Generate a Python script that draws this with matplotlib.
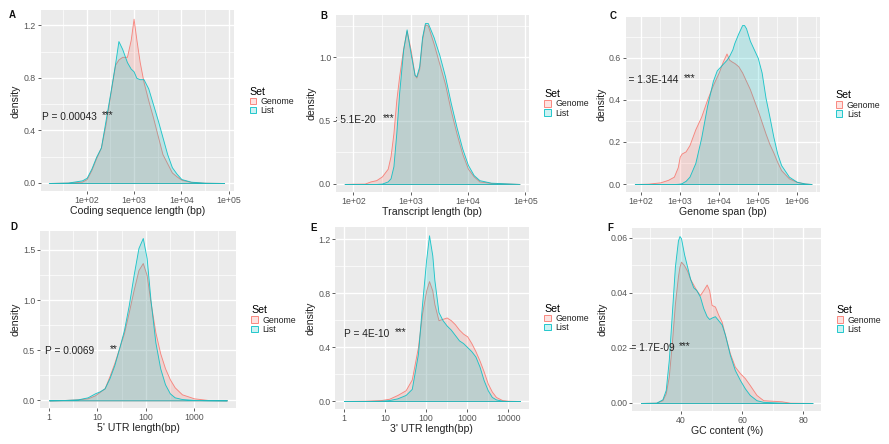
import numpy as np
import matplotlib
matplotlib.use("Agg")
import matplotlib.pyplot as plt
from matplotlib.patches import Patch
from matplotlib.colors import to_rgba
from matplotlib.ticker import FixedLocator, FixedFormatter

plt.rcParams['font.family'] = ['Liberation Sans', 'DejaVu Sans']

set_labels = ['Genome', 'List']
set_colors = ['#F8766D', '#00BFC4']

# ---------------- A: coding sequence length (log10 bp) ----------------
cds_log10 = [1.2, 1.6, 1.9, 2.0, 2.1, 2.2, 2.3, 2.4, 2.5, 2.6, 2.67, 2.75, 2.85, 2.93, 2.99,
             3.05, 3.12, 3.2, 3.3, 3.4, 3.5, 3.6, 3.7, 3.8, 3.9, 4.0, 4.2, 4.5, 4.9]
cds_genome = [0.0, 0.003, 0.01, 0.03, 0.10, 0.19, 0.27, 0.45, 0.68, 0.90, 0.94, 0.96, 0.96, 1.09, 1.25,
              1.09, 0.92, 0.77, 0.63, 0.50, 0.36, 0.22, 0.15, 0.08, 0.05, 0.025, 0.008, 0.002, 0.0]
cds_list = [0.0, 0.003, 0.02, 0.04, 0.11, 0.20, 0.27, 0.48, 0.69, 0.91, 1.08, 1.02, 0.92, 0.87, 0.85,
            0.80, 0.79, 0.79, 0.72, 0.60, 0.48, 0.35, 0.22, 0.12, 0.07, 0.03, 0.01, 0.002, 0.0]

# ---------------- B: transcript length ----------------
tx_log10 = [1.85, 2.0, 2.2, 2.3, 2.4, 2.5, 2.6, 2.65, 2.7, 2.75, 2.8, 2.87, 2.93, 3.0, 3.07, 3.1,
            3.15, 3.2, 3.25, 3.3, 3.4, 3.5, 3.6, 3.7, 3.8, 3.9, 4.0, 4.1, 4.2, 4.4, 4.9]
tx_genome = [0.0, 0.002, 0.003, 0.02, 0.03, 0.06, 0.12, 0.22, 0.40, 0.66, 0.85, 1.07, 1.21, 1.06, 0.86, 0.84,
             0.91, 1.14, 1.26, 1.25, 1.11, 0.95, 0.79, 0.58, 0.40, 0.24, 0.12, 0.06, 0.02, 0.008, 0.0]
tx_list = [0.0, 0.0, 0.0, 0.0, 0.0, 0.003, 0.02, 0.045, 0.14, 0.40, 0.72, 1.06, 1.22, 1.03, 0.86, 0.85,
           0.93, 1.16, 1.27, 1.27, 1.16, 1.02, 0.85, 0.64, 0.45, 0.28, 0.15, 0.07, 0.03, 0.01, 0.0]

# ---------------- C: genome span ----------------
span_log10 = [1.85, 2.2, 2.5, 2.7, 2.85, 2.95, 3.0, 3.05, 3.1, 3.15, 3.25, 3.4, 3.55, 3.7, 3.85, 3.95,
              4.0, 4.1, 4.2, 4.27, 4.35, 4.4, 4.5, 4.6, 4.65, 4.7, 4.8, 4.9, 5.0, 5.1, 5.2, 5.3,
              5.4, 5.5, 5.6, 5.8, 6.0, 6.2, 6.38]
span_genome = [0.0, 0.002, 0.008, 0.02, 0.035, 0.08, 0.13, 0.145, 0.15, 0.155, 0.185, 0.26, 0.32, 0.40, 0.47, 0.51,
               0.53, 0.58, 0.62, 0.59, 0.58, 0.575, 0.56, 0.53, 0.51, 0.49, 0.45, 0.40, 0.35, 0.295, 0.24, 0.19,
               0.15, 0.105, 0.066, 0.027, 0.01, 0.003, 0.0]
span_list = [0.0, 0.0, 0.0, 0.0, 0.0, 0.001, 0.002, 0.004, 0.01, 0.015, 0.035, 0.10, 0.22, 0.37, 0.49, 0.54,
             0.55, 0.57, 0.59, 0.61, 0.64, 0.67, 0.715, 0.755, 0.755, 0.74, 0.68, 0.64, 0.60, 0.53, 0.41, 0.32,
             0.225, 0.145, 0.09, 0.035, 0.011, 0.003, 0.0]

# ---------------- D: 5' UTR length ----------------
utr5_log10 = [0.0, 0.3, 0.6, 0.8, 0.95, 1.05, 1.15, 1.25, 1.35, 1.45, 1.55, 1.65, 1.75, 1.85, 1.94,
              2.02, 2.1, 2.2, 2.3, 2.4, 2.5, 2.6, 2.75, 3.0, 3.3, 3.68]
utr5_genome = [0.0, 0.003, 0.01, 0.02, 0.05, 0.085, 0.12, 0.24, 0.37, 0.52, 0.67, 0.88, 1.10, 1.30, 1.37,
               1.25, 0.98, 0.68, 0.47, 0.32, 0.21, 0.13, 0.06, 0.02, 0.003, 0.0]
utr5_list = [0.0, 0.003, 0.01, 0.03, 0.07, 0.09, 0.12, 0.22, 0.35, 0.52, 0.70, 0.95, 1.25, 1.52, 1.62,
             1.42, 1.00, 0.58, 0.32, 0.16, 0.07, 0.03, 0.013, 0.004, 0.001, 0.0]

# ---------------- E: 3' UTR length ----------------
utr3_log10 = [0.0, 0.5, 0.9, 1.1, 1.3, 1.5, 1.65, 1.8, 1.9, 2.0, 2.07, 2.15, 2.2, 2.3, 2.4, 2.5,
              2.6, 2.7, 2.8, 2.9, 3.0, 3.1, 3.2, 3.3, 3.4, 3.5, 3.6, 3.7, 3.85, 4.0, 4.28]
utr3_genome = [0.0, 0.002, 0.007, 0.017, 0.045, 0.08, 0.16, 0.40, 0.65, 0.82, 0.89, 0.82, 0.72, 0.60, 0.61, 0.62,
               0.60, 0.57, 0.53, 0.50, 0.48, 0.43, 0.37, 0.30, 0.22, 0.13, 0.07, 0.03, 0.007, 0.002, 0.0]
utr3_list = [0.0, 0.0, 0.002, 0.007, 0.02, 0.045, 0.09, 0.35, 0.72, 1.05, 1.23, 1.08, 0.90, 0.66, 0.60, 0.56,
             0.53, 0.49, 0.45, 0.43, 0.40, 0.37, 0.33, 0.255, 0.155, 0.08, 0.03, 0.012, 0.002, 0.0, 0.0]

# ---------------- F: GC content (%) ----------------
gc_pct = [26.9, 31.9, 33.9, 35.0, 36.0, 37.0, 38.0, 39.0, 39.5, 40.0, 41.0, 42.0, 43.0, 44.0, 45.0, 46.2,
          47.3, 48.4, 49.2, 50.0, 51.1, 52.2, 53.3, 54.4, 56.0, 57.6, 59.3, 60.9, 62.5, 64.7, 66.9,
          72.9, 75.6, 83.0]
gc_genome = [0.0, 0.0001, 0.001, 0.0035, 0.0096, 0.0217, 0.036, 0.046, 0.0495, 0.0513, 0.050, 0.048, 0.045,
             0.043, 0.041, 0.0392, 0.041, 0.043, 0.041, 0.0356, 0.035, 0.032, 0.0295, 0.0247, 0.018, 0.0132,
             0.0108, 0.009, 0.0065, 0.0029, 0.001, 0.0006, 0.0001, 0.0]
gc_list = [0.0, 0.0001, 0.0013, 0.0047, 0.0156, 0.0325, 0.0495, 0.059, 0.0606, 0.0598, 0.054, 0.0495, 0.045,
           0.042, 0.041, 0.0386, 0.0344, 0.0315, 0.0305, 0.031, 0.0315, 0.030, 0.0285, 0.0247, 0.0174, 0.012,
           0.0083, 0.0053, 0.0029, 0.001, 0.0004, 0.0001, 0.0, 0.0]

p_texts = ['P = 0.00043', 'P = 5.1E-20', 'P = 1.3E-144', 'P = 0.0069', 'P = 4E-10', 'P = 1.7E-09']
stars = ['***', '***', '***', '**', '***', '***']
x_titles = ['Coding sequence length (bp)', 'Transcript length (bp)', 'Genome span (bp)',
            "5' UTR length(bp)", "3' UTR length(bp)", 'GC content (%)']
panel_letters = ['A', 'B', 'C', 'D', 'E', 'F']

W, H = 889, 444
fig = plt.figure(figsize=(W / 100, H / 100), dpi=100)
fig.patch.set_facecolor('white')

BG = '#EBEBEB'
TICK_COL = '#555555'
TEXT_COL = '#222222'


def make_ax(x0, y0, x1, y1):
    return fig.add_axes([x0 / W, 1 - y1 / H, (x1 - x0) / W, (y1 - y0) / H])


def style(ax, xmaj, xlabels, xmin, ymaj, ylabels, ymin):
    ax.set_facecolor(BG)
    for s in ax.spines.values():
        s.set_visible(False)
    ax.xaxis.set_major_locator(FixedLocator(xmaj))
    ax.xaxis.set_major_formatter(FixedFormatter(xlabels))
    ax.xaxis.set_minor_locator(FixedLocator(xmin))
    ax.yaxis.set_major_locator(FixedLocator(ymaj))
    ax.yaxis.set_major_formatter(FixedFormatter(ylabels))
    ax.yaxis.set_minor_locator(FixedLocator(ymin))
    ax.grid(which='major', color='white', linewidth=0.95)
    ax.grid(which='minor', color='white', linewidth=0.5)
    ax.set_axisbelow(True)
    ax.tick_params(which='major', length=2.0, width=0.6, color='#444444', pad=1.5,
                   labelsize=6.3, labelcolor=TICK_COL)
    ax.tick_params(which='minor', length=0)


def draw(ax, x, ys):
    for y, c in zip(ys, set_colors):
        ax.fill_between(x, y, 0, facecolor=to_rgba(c, 0.2), edgecolor=to_rgba(c, 0.85),
                        linewidth=0.65)


def annotate(ax, letter, xlab, ptxt, star, xr, xs, yy, letter_xy):
    ax.set_xlabel(xlab, fontsize=7.6, labelpad=0.8, color=TEXT_COL)
    ax.set_ylabel('density', fontsize=7.6, labelpad=2.0, color=TEXT_COL)
    ax.text(xr, yy, ptxt, transform=ax.transAxes, ha='right', va='center', fontsize=7.3,
            color=TEXT_COL, clip_on=True)
    ax.text(xs, yy + 0.01, star, transform=ax.transAxes, ha='left', va='center', fontsize=7.3,
            color=TEXT_COL, clip_on=True)
    fig.text(letter_xy[0] / W, 1 - letter_xy[1] / H, letter, fontsize=7, fontweight='bold',
             ha='left', va='center', color='#111111')
    axw = ax.get_position().width * W
    handles = [Patch(facecolor=to_rgba(c, 0.2), edgecolor=to_rgba(c, 0.85), linewidth=0.7)
               for c in set_colors]
    ax.legend(handles, set_labels, title='Set', loc='center left',
              bbox_to_anchor=(1 + 15.5 / axw, 0.5), frameon=False, fontsize=6.3,
              title_fontsize=7.6, handlelength=0.75, handleheight=0.75, handletextpad=0.5,
              labelspacing=0.02, borderpad=0, borderaxespad=0, alignment='left',
              labelcolor=TEXT_COL)


def lg(v):
    return np.power(10.0, np.asarray(v, dtype=float))


# A
ax = make_ax(40.5, 10.5, 234.2, 191.2)
ax.set_xscale('log')
draw(ax, lg(cds_log10), [cds_genome, cds_list])
ax.set_xlim(lg(1.024), lg(5.116))
ax.set_ylim(-0.0625, 1.3125)
style(ax, lg([2, 3, 4, 5]), ['1e+02', '1e+03', '1e+04', '1e+05'], lg([1.5, 2.5, 3.5, 4.5]),
      [0, 0.4, 0.8, 1.2], ['0.0', '0.4', '0.8', '1.2'], [0.2, 0.6, 1.0])
annotate(ax, 'A', x_titles[0], p_texts[0], stars[0], 0.292, 0.318, 0.413, (9, 15))

# B
ax = make_ax(335.9, 15.0, 528.9, 192.0)
ax.set_xscale('log')
draw(ax, lg(tx_log10), [tx_genome, tx_list])
ax.set_xlim(lg(1.697), lg(5.063))
ax.set_ylim(-0.0635, 1.3335)
style(ax, lg([2, 3, 4, 5]), ['1e+02', '1e+03', '1e+04', '1e+05'], lg([2.5, 3.5, 4.5]),
      [0, 0.5, 1.0], ['0.0', '0.5', '1.0'], [0.25, 0.75, 1.25])
annotate(ax, 'B', x_titles[1], p_texts[1], stars[1], 0.206, 0.242, 0.406, (320, 16))

# C
ax = make_ax(626.0, 17.1, 820.4, 192.0)
ax.set_xscale('log')
draw(ax, lg(span_log10), [span_genome, span_list])
ax.set_xlim(lg(1.6235), lg(6.6065))
ax.set_ylim(-0.0378, 0.7928)
style(ax, lg([2, 3, 4, 5, 6]), ['1e+02', '1e+03', '1e+04', '1e+05', '1e+06'],
      lg([2.5, 3.5, 4.5, 5.5, 6.5]),
      [0, 0.2, 0.4, 0.6], ['0.0', '0.2', '0.4', '0.6'], [0.1, 0.3, 0.5, 0.7])
annotate(ax, 'C', x_titles[2], p_texts[2], stars[2], 0.267, 0.297, 0.640, (610, 16))

# D
ax = make_ax(40.1, 230.9, 235.8, 408.4)
ax.set_xscale('log')
draw(ax, lg(utr5_log10), [utr5_genome, utr5_list])
ax.set_xlim(lg(-0.184), lg(3.864))
ax.set_ylim(-0.0805, 1.6905)
style(ax, lg([0, 1, 2, 3]), ['1', '10', '100', '1000'], lg([0.5, 1.5, 2.5, 3.5]),
      [0, 0.5, 1.0, 1.5], ['0.0', '0.5', '1.0', '1.5'], [0.25, 0.75, 1.25])
annotate(ax, 'D', x_titles[3], p_texts[3], stars[3], 0.276, 0.357, 0.324, (10, 227))

# E
ax = make_ax(335.2, 227.0, 528.6, 409.3)
ax.set_xscale('log')
draw(ax, lg(utr3_log10), [utr3_genome, utr3_list])
ax.set_xlim(lg(-0.214), lg(4.494))
ax.set_ylim(-0.0615, 1.2915)
style(ax, lg([0, 1, 2, 3, 4]), ['1', '10', '100', '1000', '10000'], lg([0.5, 1.5, 2.5, 3.5]),
      [0, 0.4, 0.8, 1.2], ['0.0', '0.4', '0.8', '1.2'], [0.2, 0.6, 1.0])
annotate(ax, 'E', x_titles[4], p_texts[4], stars[4], 0.278, 0.309, 0.411, (310, 228))

# F
ax = make_ax(632.4, 227.7, 821.0, 411.3)
draw(ax, np.asarray(gc_pct), [gc_genome, gc_list])
ax.set_xlim(24.1, 85.8)
ax.set_ylim(-0.00303, 0.06363)
style(ax, [40, 60, 80], ['40', '60', '80'], [30, 50, 70],
      [0, 0.02, 0.04, 0.06], ['0.00', '0.02', '0.04', '0.06'], [0.01, 0.03, 0.05])
annotate(ax, 'F', x_titles[5], p_texts[5], stars[5], 0.222, 0.249, 0.346, (607, 228))

fig.savefig('out.png', dpi=100, facecolor='white')
